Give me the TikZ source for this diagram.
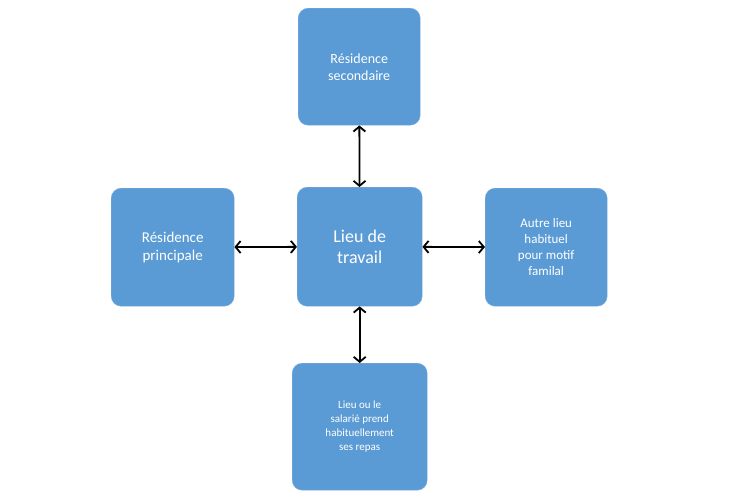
\documentclass[tikz,border=0pt]{standalone}
\usepackage{fontspec}
\setmainfont{Carlito}
\usetikzlibrary{arrows.meta}
\definecolor{boxblue}{HTML}{5B9BD5}
\begin{document}
\begin{tikzpicture}[x=1pt,y=-1pt,
  box/.style={fill=boxblue,draw=boxblue!80!white,rounded corners=10pt,text=white,align=center,inner sep=2pt},
  conn/.style={draw=black,line width=1.8pt,{Straight Barb[length=5pt,width=12pt]}-{Straight Barb[length=5pt,width=12pt]}}]
\useasboundingbox (0,0) rectangle (735,501);
\node[box,minimum width=122pt,minimum height=117pt,font=\fontsize{14}{17}\selectfont,anchor=north west] (top) at (298,8) {Résidence\\secondaire};
\node[box,minimum width=125pt,minimum height=119pt,font=\fontsize{18}{21}\selectfont,anchor=north west] (mid) at (297,187) {Lieu de\\travail};
\node[box,minimum width=123pt,minimum height=118pt,font=\fontsize{15}{18}\selectfont,anchor=north west] (left) at (111,188) {Résidence\\principale};
\node[box,minimum width=122pt,minimum height=118pt,font=\fontsize{13}{16}\selectfont,anchor=north west] (right) at (485,188) {Autre lieu\\habituel\\pour motif\\familal};
\node[box,minimum width=135pt,minimum height=127pt,font=\fontsize{11}{14}\selectfont,anchor=north west] (bot) at (292,363) {Lieu ou le\\salarié prend\\habituellement\\ses repas};
\draw[conn] (top) -- (mid);
\draw[conn] (left) -- (mid);
\draw[conn] (mid) -- (right);
\draw[conn] (mid) -- (bot);
\end{tikzpicture}
\end{document}
